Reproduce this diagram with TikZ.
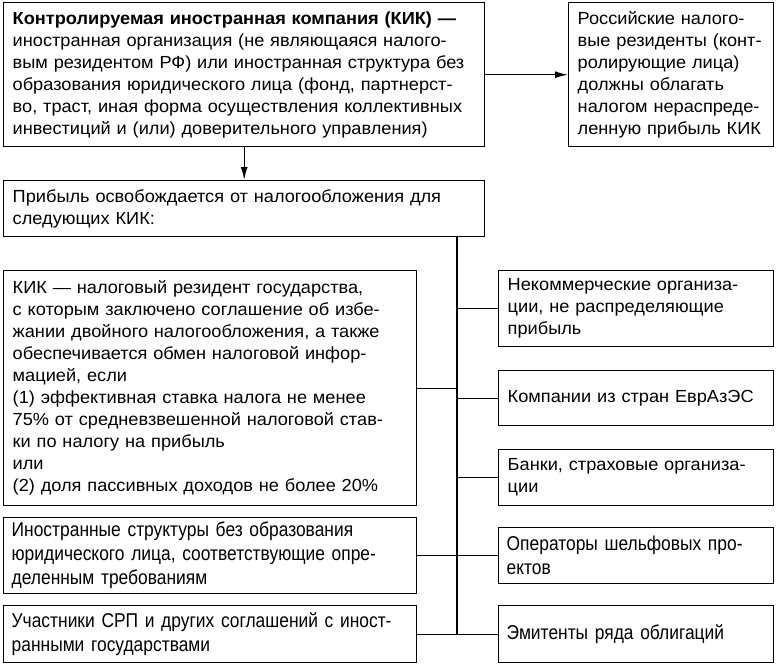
\documentclass[tikz,border=0pt]{standalone}
\usepackage{fontspec}
\setmainfont[FakeStretch=1.04]{Liberation Sans}
\newfontfamily\narrowfont[FakeStretch=0.87]{Liberation Sans}
\usetikzlibrary{arrows.meta}
\begin{document}
\begin{tikzpicture}[x=1pt, y=-1pt, line width=1.4pt,
  kik box/.style={draw, anchor=north west, align=left, inner xsep=9pt, inner ysep=0pt, font=\fontsize{17.5}{22}\selectfont},
  narrow box/.style={kik box, inner xsep=8pt, font=\narrowfont\fontsize{20}{24}\selectfont}]
\useasboundingbox (0,0) rectangle (776,664);
\begin{scope}[every node/.style={kik box}]
\node (kik) at (3,2) [text width=463pt, minimum height=144pt] {\textbf{Контролируемая иностранная компания (КИК) —}\\
иностранная организация (не являющаяся налого-\\
вым резидентом РФ) или иностранная структура без\\
образования юридического лица (фонд, партнерст-\\
во, траст, иная форма осуществления коллективных\\
инвестиций и (или) доверительного управления)};
\node (rez) at (568,2) [text width=187pt, minimum height=144pt] {Российские налого-\\
вые резиденты (конт-\\
ролирующие лица)\\
должны облагать\\
налогом нераспреде-\\
ленную прибыль КИК};
\node (exempt) at (3,180) [text width=463pt, minimum height=56pt] {Прибыль освобождается от налогообложения для\\
следующих КИК:};
\node (treaty) at (3,270) [text width=395pt, minimum height=235pt] {КИК — налоговый резидент государства,\\
с которым заключено соглашение об избе-\\
жании двойного налогообложения, а также\\
обеспечивается обмен налоговой инфор-\\
мацией, если\\
(1) эффективная ставка налога не менее\\
75\% от средневзвешенной налоговой став-\\
ки по налогу на прибыль\\
или\\
(2) доля пассивных доходов не более 20\%};
\node (struct) at (3,517) [narrow box, text width=397pt, minimum height=76pt] {Иностранные структуры без образования\\
юридического лица, соответствующие опре-\\
деленным требованиям};
\node (srp) at (3,605) [narrow box, text width=397pt, minimum height=57pt] {Участники СРП и других соглашений с иност-\\
ранными государствами};
\node (ncom) at (498,270) [text width=257pt, minimum height=76pt] {Некоммерческие организа-\\
ции, не распределяющие\\
прибыль};
\node (eaes) at (498,370) [text width=257pt, minimum height=55pt] {Компании из стран ЕврАзЭС};
\node (bank) at (498,449) [text width=257pt, minimum height=56pt] {Банки, страховые организа-\\
ции};
\node (shelf) at (498,527) [narrow box, text width=259pt, minimum height=56pt] {Операторы шельфовых про-\\
ектов};
\node (bonds) at (498,605) [narrow box, text width=259pt, minimum height=57pt] {Эмитенты ряда облигаций};
\end{scope}
\coordinate (bus) at (457,236);
\begin{scope}[every edge/.style={draw=black, line width=1.4pt}]
\draw (kik) edge[-{Latex[length=13pt,width=7pt]}] (rez);
\draw (kik) edge[-{Latex[length=13pt,width=7pt]}] (exempt);
\draw (bus) edge (bus |- srp);
\draw (treaty) edge (treaty -| bus);
\draw (ncom) edge (ncom -| bus);
\draw (eaes) edge (eaes -| bus);
\draw (bank) edge (bank -| bus);
\draw (struct) edge (shelf);
\draw (srp) edge (bonds);
\end{scope}
\end{tikzpicture}
\end{document}
